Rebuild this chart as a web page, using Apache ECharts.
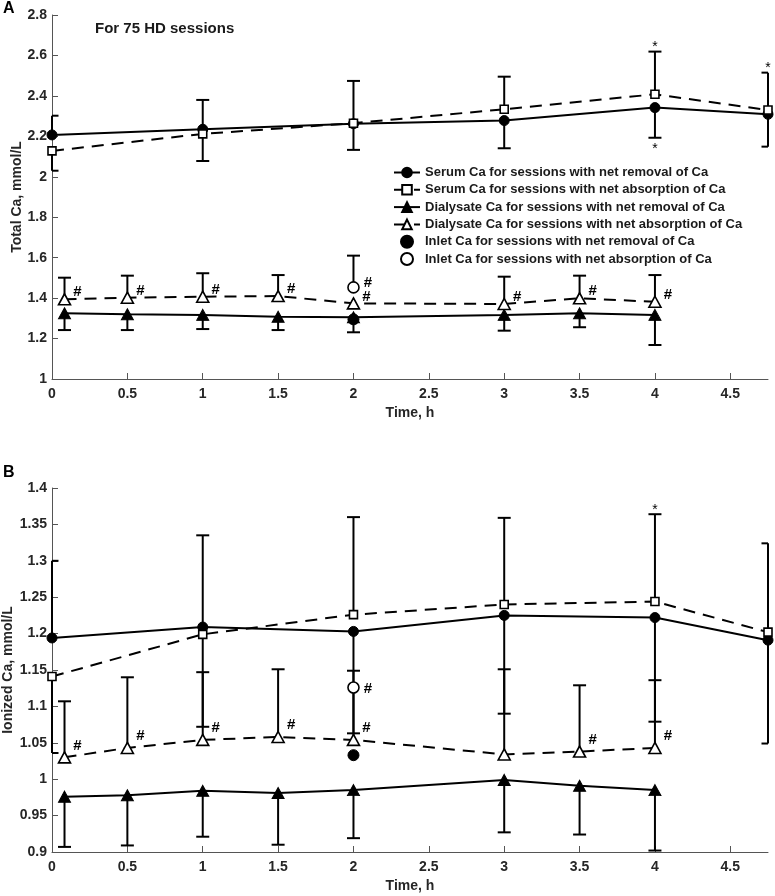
<!DOCTYPE html>
<html><head><meta charset="utf-8">
<script src="https://cdn.jsdelivr.net/npm/echarts@6/dist/echarts.min.js"></script>
<style>html,body{margin:0;padding:0;background:#fff}#c{width:775px;height:896px}</style>
</head><body><div id="c"></div>
<script>
// ---------- shared ----------
const timeSerum = [0, 1, 2, 3, 4, 4.75];
const timeDial = [0.083, 0.5, 1, 1.5, 2, 3, 3.5, 4];
const timeInlet = [2];
const xTickValues = [0, 0.5, 1, 1.5, 2, 2.5, 3, 3.5, 4, 4.5];
const seriesNames = [
  'Serum Ca for sessions with net removal of Ca',
  'Serum Ca for sessions with net absorption of Ca',
  'Dialysate Ca for sessions with net removal of Ca',
  'Dialysate Ca for sessions with net absorption of Ca',
  'Inlet Ca for sessions with net removal of Ca',
  'Inlet Ca for sessions with net absorption of Ca'
];

// ---------- panel A: total Ca ----------
const serumRemovalA      = [2.207, 2.235, 2.262, 2.278, 2.342, 2.309];
const serumRemovalA_end  = [2.302, 2.380, 2.133, 2.141, 2.193, 2.149];
const serumRemovalA_star = [0, 0, 0, 0, 1, 0];
const serumAbsorbA       = [2.128, 2.212, 2.265, 2.334, 2.408, 2.330];
const serumAbsorbA_end   = [2.030, 2.078, 2.474, 2.495, 2.619, 2.515];
const serumAbsorbA_star  = [0, 0, 0, 0, 1, 1];
const dialRemovalA       = [1.325, 1.320, 1.317, 1.308, 1.305, 1.317, 1.325, 1.317];
const dialRemovalA_end   = [1.242, 1.242, 1.247, 1.242, 1.231, 1.239, 1.256, 1.168];
const dialAbsorbA        = [1.394, 1.402, 1.407, 1.410, 1.374, 1.371, 1.399, 1.382];
const dialAbsorbA_end    = [1.501, 1.511, 1.523, 1.514, null, 1.506, 1.511, 1.514];
const dialAbsorbA_hash   = [1, 1, 1, 1, 1, 1, 1, 1];
const inletRemovalA      = [1.295];
const inletAbsorbA       = [1.453];
const inletAbsorbA_end   = [1.610];
const inletAbsorbA_hash  = [1];

// ---------- panel B: ionized Ca ----------
const serumRemovalB      = [1.194, 1.209, 1.203, 1.225, 1.222, 1.191];
const serumRemovalB_end  = [1.300, 1.335, 1.063, 1.090, 1.079, 1.049];
const serumRemovalB_star = [0, 0, 0, 0, 0, 0];
const serumAbsorbB       = [1.141, 1.199, 1.226, 1.240, 1.244, 1.202];
const serumAbsorbB_end   = [1.036, 1.072, 1.360, 1.359, 1.364, 1.324];
const serumAbsorbB_star  = [0, 0, 0, 0, 1, 0];
const dialRemovalB       = [0.976, 0.978, 0.984, 0.981, 0.985, 0.999, 0.991, 0.985];
const dialRemovalB_end   = [0.907, 0.909, 0.921, 0.910, 0.919, 0.927, 0.924, 0.902];
const dialAbsorbB        = [1.030, 1.043, 1.054, 1.058, 1.054, 1.034, 1.038, 1.043];
const dialAbsorbB_end    = [1.107, 1.140, 1.147, 1.151, 1.149, 1.151, 1.129, 1.136];
const dialAbsorbB_hash   = [1, 1, 1, 1, 1, 0, 1, 1];
const inletRemovalB      = [1.033];
const inletAbsorbB       = [1.126];
const inletAbsorbB_hash  = [1];

// ---------- helpers ----------
const FONT = 'Liberation Sans, Arial, Helvetica, sans-serif';
const AXIS_COLOR = '#262626';

function barRows(times, means, ends, stars) {
  const rows = [];
  times.forEach((t, i) => {
    if (ends[i] != null) rows.push([t, means[i], ends[i], stars ? stars[i] : 0]);
  });
  return rows;
}

function barRender(params, api) {
  const x = api.value(0), m = api.value(1), e = api.value(2), star = api.value(3);
  const p0 = api.coord([x, m]), p1 = api.coord([x, e]);
  const cs = params.coordSys;
  const hw = 6.5;
  const l = Math.max(cs.x, p1[0] - hw), r = Math.min(cs.x + cs.width, p1[0] + hw);
  const st = { stroke: '#000', lineWidth: 2 };
  const ch = [
    { type: 'line', shape: { x1: p0[0], y1: p0[1], x2: p1[0], y2: p1[1] }, style: st },
    { type: 'line', shape: { x1: l, y1: p1[1], x2: r, y2: p1[1] }, style: st }
  ];
  if (star) {
    const up = e > m;
    ch.push({ type: 'text', style: { text: '*', x: p1[0], y: p1[1] + (up ? -4.5 : 11.5),
      align: 'center', verticalAlign: 'middle', fontSize: 14, fontFamily: FONT, fill: '#000' } });
  }
  return { type: 'group', children: ch };
}

function pointData(times, vals, hashes) {
  return times.map((t, i) => ({ value: [t, vals[i]], label: { show: !!(hashes && hashes[i]) } }));
}

function hashLabel(dy, dist) {
  return { show: false, formatter: '#', position: 'right', distance: dist, offset: [0, dy],
    fontSize: 15, fontWeight: 'bold', fontFamily: FONT, color: '#000' };
}

const filled = { color: '#000', borderColor: '#000', borderWidth: 1, opacity: 1 };
const open = { color: '#fff', borderColor: '#000', borderWidth: 1.6, opacity: 1 };
const solid = { color: '#000', width: 2, type: 'solid' };
const dashed = { color: '#000', width: 2, type: [12, 8] };

function panelSeries(idx, d) {
  const base = { xAxisIndex: idx, yAxisIndex: idx, animation: false, emphasis: { disabled: true }, silent: true };
  return [
    Object.assign({ type: 'custom', name: 'errA' + idx, renderItem: barRender, z: 1,
      data: d.bars, encode: { x: 0, y: 1 } }, base),
    Object.assign({ type: 'line', name: seriesNames[0], symbol: 'circle', symbolSize: 10,
      data: pointData(timeSerum, d.sr), lineStyle: solid, itemStyle: filled, z: 3 }, base),
    Object.assign({ type: 'line', name: seriesNames[1], symbol: 'rect', symbolSize: 8,
      data: pointData(timeSerum, d.sa), lineStyle: dashed, itemStyle: open, z: 4 }, base),
    Object.assign({ type: 'line', name: seriesNames[2], symbol: 'triangle', symbolSize: [12, 11],
      data: pointData(timeDial, d.dr), lineStyle: solid, itemStyle: filled, z: 3 }, base),
    Object.assign({ type: 'line', name: seriesNames[3], symbol: 'triangle', symbolSize: [12, 11],
      data: pointData(timeDial, d.da, d.dah), lineStyle: dashed, itemStyle: open, z: 4,
      label: hashLabel(d.triDy, 2) }, base),
    Object.assign({ type: 'scatter', name: seriesNames[4], symbol: 'circle', symbolSize: 11,
      data: pointData(timeInlet, d.ir), itemStyle: filled, z: 5 }, base),
    Object.assign({ type: 'scatter', name: seriesNames[5], symbol: 'circle', symbolSize: 11,
      data: pointData(timeInlet, d.ia, d.iah), itemStyle: open, z: 5,
      label: hashLabel(d.inDy, 4) }, base)
  ];
}

const barsA = [].concat(
  barRows(timeSerum, serumRemovalA, serumRemovalA_end, serumRemovalA_star),
  barRows(timeSerum, serumAbsorbA, serumAbsorbA_end, serumAbsorbA_star),
  barRows(timeDial, dialRemovalA, dialRemovalA_end),
  barRows(timeDial, dialAbsorbA, dialAbsorbA_end),
  barRows(timeInlet, inletAbsorbA, inletAbsorbA_end)
);
const barsB = [].concat(
  barRows(timeSerum, serumRemovalB, serumRemovalB_end, serumRemovalB_star),
  barRows(timeSerum, serumAbsorbB, serumAbsorbB_end, serumAbsorbB_star),
  barRows(timeDial, dialRemovalB, dialRemovalB_end),
  barRows(timeDial, dialAbsorbB, dialAbsorbB_end)
);

function xAxis(idx) {
  return {
    type: 'value', gridIndex: idx, min: 0, max: 4.75,
    name: 'Time, h', nameLocation: 'middle', nameGap: 27, nameMoveOverlap: false,
    nameTextStyle: { fontSize: 14, fontWeight: 'bold', color: AXIS_COLOR, fontFamily: FONT },
    axisLine: { lineStyle: { color: '#555', width: 1 } },
    axisTick: { inside: true, length: 6, customValues: xTickValues, lineStyle: { color: '#555' } },
    axisLabel: { customValues: xTickValues, margin: 8, fontSize: 14, fontWeight: 'bold', color: AXIS_COLOR, fontFamily: FONT },
    splitLine: { show: false }
  };
}
function yAxis(idx, min, max, interval, name, gap) {
  return {
    type: 'value', gridIndex: idx, min: min, max: max, interval: interval,
    name: name, nameLocation: 'middle', nameGap: gap, nameMoveOverlap: false,
    nameTextStyle: { fontSize: 14, fontWeight: 'bold', color: AXIS_COLOR, fontFamily: FONT },
    axisLine: { show: true, lineStyle: { color: '#555', width: 1 } },
    axisTick: { show: true, inside: true, length: 6, lineStyle: { color: '#555' } },
    axisLabel: { margin: 5, fontSize: 14, fontWeight: 'bold', color: AXIS_COLOR, fontFamily: FONT },
    splitLine: { show: false }
  };
}

const chart = echarts.init(document.getElementById('c'), null, { renderer: 'canvas' });
chart.setOption({
  animation: false,
  backgroundColor: '#fff',
  textStyle: { fontFamily: FONT },
  grid: [
    { left: 52, right: 7, top: 15, height: 364, containLabel: false, outerBoundsMode: 'none' },
    { left: 52, right: 7, top: 488, height: 364, containLabel: false, outerBoundsMode: 'none' }
  ],
  xAxis: [xAxis(0), xAxis(1)],
  yAxis: [
    yAxis(0, 1, 2.8, 0.2, 'Total Ca, mmol/L', 28),
    yAxis(1, 0.9, 1.4, 0.05, 'Ionized Ca, mmol/L', 37)
  ],
  legend: {
    orient: 'vertical', left: 393, top: 165, padding: 0,
    data: seriesNames, itemWidth: 26, itemHeight: 12, itemGap: 2.3,
    selectedMode: false,
    textStyle: { fontSize: 13, fontWeight: 'bold', color: '#1a1a1a', fontFamily: FONT, lineHeight: 15 }
  },
  graphic: [
    { type: 'text', left: 3, top: 1, style: { text: 'A', fontSize: 16, fontWeight: 'bold', fill: '#000', fontFamily: FONT } },
    { type: 'text', left: 3, top: 465, style: { text: 'B', fontSize: 16, fontWeight: 'bold', fill: '#000', fontFamily: FONT } },
    { type: 'text', left: 95, top: 21, style: { text: 'For 75 HD sessions', fontSize: 15, fontWeight: 'bold', fill: '#1a1a1a', fontFamily: FONT } }
  ],
  series: [].concat(
    panelSeries(0, { bars: barsA, sr: serumRemovalA, sa: serumAbsorbA, dr: dialRemovalA, da: dialAbsorbA,
      dah: dialAbsorbA_hash, ir: inletRemovalA, ia: inletAbsorbA, iah: inletAbsorbA_hash, triDy: -7, inDy: -5 }),
    panelSeries(1, { bars: barsB, sr: serumRemovalB, sa: serumAbsorbB, dr: dialRemovalB, da: dialAbsorbB,
      dah: dialAbsorbB_hash, ir: inletRemovalB, ia: inletAbsorbB, iah: inletAbsorbB_hash, triDy: -12, inDy: 1 })
  )
});
</script>
</body></html>
